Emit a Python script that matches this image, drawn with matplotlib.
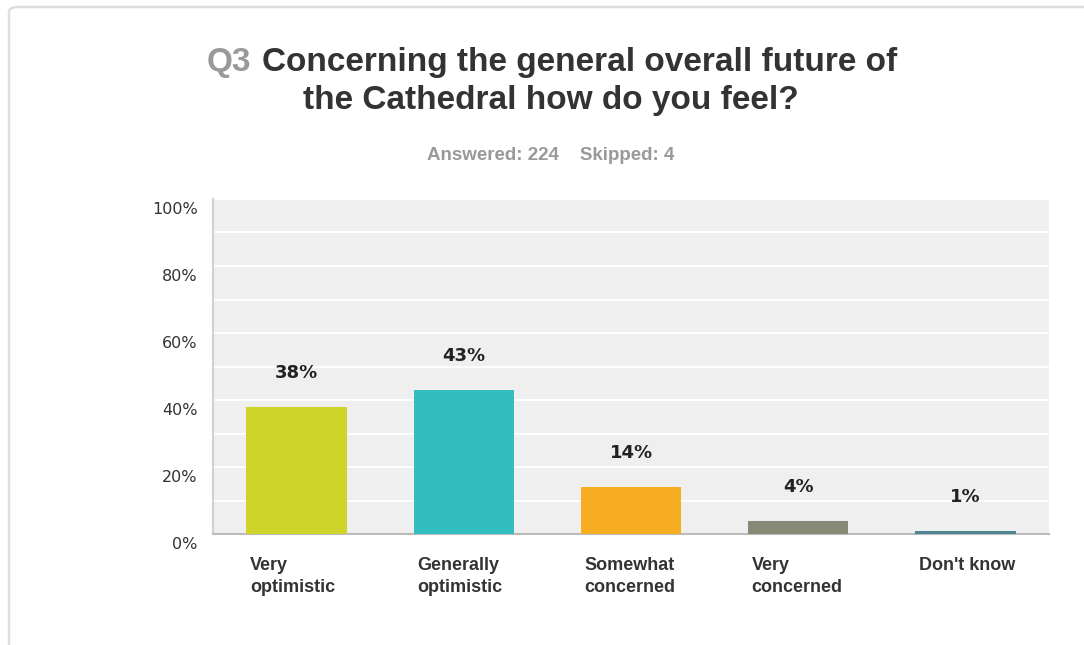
import matplotlib.pyplot as plt
import matplotlib.transforms as mtransforms
from matplotlib.patches import FancyBboxPatch

# Survey results
answers = ["Very\noptimistic", "Generally\noptimistic", "Somewhat\nconcerned",
           "Very\nconcerned", "Don't know"]
percents = [38, 43, 14, 4, 1]
bar_colors = ["#cfd42a", "#33bdbf", "#f6ae20", "#888a77", "#4f8592"]
y_ticks = [0, 20, 40, 60, 80, 100]
answered = 224
skipped = 4

fig = plt.figure(figsize=(10.84, 6.45), dpi=100)
fig.patch.set_facecolor("white")

# Card outline with rounded corner
card = FancyBboxPatch((9 / 1084, -0.05), 1.2, 1.05 - 7 / 645,
                      boxstyle="round,pad=0,rounding_size=0.008",
                      transform=fig.transFigure, facecolor="white",
                      edgecolor="#dddddd", linewidth=1.8, zorder=-1)
fig.patches.append(card)

ax = fig.add_axes([213 / 1084, 111 / 645, 836 / 1084, 335 / 645], zorder=2)
ax.set_facecolor("#efefef")

x = range(len(answers))
ax.bar(x, percents, width=0.6, color=bar_colors, zorder=3)
ax.set_xlim(-0.5, len(answers) - 0.5)
ax.set_ylim(0, 100)

# Value labels above bars
for i, v in enumerate(percents):
    ax.annotate(f"{v}%", (i, v), xytext=(0, 18), textcoords="offset points",
                ha="center", va="bottom", fontsize=13, fontweight="bold",
                color="#222222", family="DejaVu Sans")

# White gridlines every 10%
for g in range(10, 101, 10):
    ax.axhline(g, color="white", linewidth=1.3, zorder=1)

ax.set_yticks(y_ticks)
ax.set_yticklabels([f"{t}%" for t in y_ticks], fontsize=11.5, color="#333333",
                   family="DejaVu Sans")
ax.tick_params(axis="y", length=0, pad=11)
shift = mtransforms.ScaledTranslation(0, -9 / 100, fig.dpi_scale_trans)
for lbl in ax.get_yticklabels():
    lbl.set_transform(lbl.get_transform() + shift)

# Category labels left-aligned under each bar
ax.set_xticks([])
for i, name in enumerate(answers):
    ax.text(i - 0.28, -7, name, ha="left", va="top", fontsize=13,
            fontweight="bold", color="#333333", family="Liberation Sans",
            linespacing=1.35, transform=ax.transData)

for side in ["top", "right"]:
    ax.spines[side].set_visible(False)
ax.spines["left"].set_color("#d0d0d0")
ax.spines["bottom"].set_color("#bbbbbb")
ax.spines["left"].set_linewidth(1.5)
ax.spines["bottom"].set_linewidth(1.5)

# Title and response counts
title_font = dict(fontsize=24, fontweight="bold", family="Liberation Sans")
fig.text(207 / 1084, 1 - 62 / 645, "Q3", ha="left", va="center", color="#999999",
         **title_font)
fig.text(262 / 1084, 1 - 62 / 645, "Concerning the general overall future of",
         ha="left", va="center", color="#333333", **title_font)
fig.text(551 / 1084, 1 - 100 / 645, "the Cathedral how do you feel?", ha="center",
         va="center", color="#333333", **title_font)
fig.text(551 / 1084, 1 - 155 / 645, f"Answered: {answered}    Skipped: {skipped}",
         ha="center", va="center", fontsize=13.5, fontweight="bold",
         color="#999999", family="Liberation Sans")

fig.savefig("out.png", dpi=100)
